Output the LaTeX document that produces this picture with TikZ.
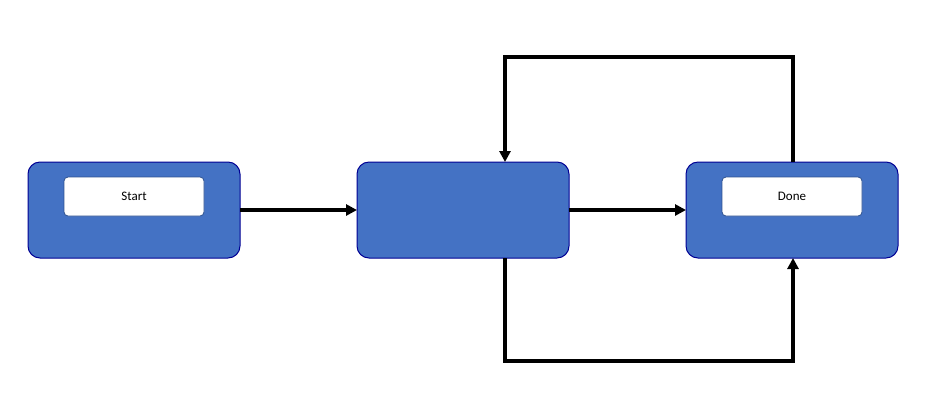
\documentclass[tikz,border=0pt]{standalone}
\usepackage{fontspec}
\setmainfont{Carlito}
\usetikzlibrary{arrows.meta}
\begin{document}
\begin{tikzpicture}[x=1pt,y=-1pt,
  bluebox/.style={draw=blue!40!black!70!blue, fill={rgb,255:red,68;green,114;blue,196}, line width=1pt, rounded corners=12pt},
  whitebox/.style={draw={rgb,255:red,47;green,82;blue,143}, fill=white, line width=0.8pt, rounded corners=4pt, minimum width=140pt, minimum height=39pt, font=\fontsize{13}{15}\selectfont},
  conn/.style={line width=3.5pt, -{Triangle[length=11pt,width=11pt]}}]
\useasboundingbox (0,0) rectangle (925,400);
\path[bluebox] (28,162) rectangle (240,258);
\path[bluebox] (357,162) rectangle (569,258);
\path[bluebox] (686,162) rectangle (898,258);
\coordinate (A) at (240,210);
\coordinate (B) at (357,210);
\coordinate (C) at (569,210);
\coordinate (D) at (686,210);
\coordinate (Mt) at (505,162);
\coordinate (Mb) at (505,258);
\coordinate (Rt) at (793,162);
\coordinate (Rb) at (793,258);
\node[whitebox] (start) at (134,196.5) {Start};
\node[whitebox] (done) at (792,196.5) {Done};
\draw[conn] (A) -- (B);
\draw[conn] (C) -- (D);
\draw[conn] (Rt) -- (793,57) -- (505,57) -- (Mt);
\draw[conn] (Mb) -- (505,361) -- (793,361) -- (Rb);
\end{tikzpicture}
\end{document}
